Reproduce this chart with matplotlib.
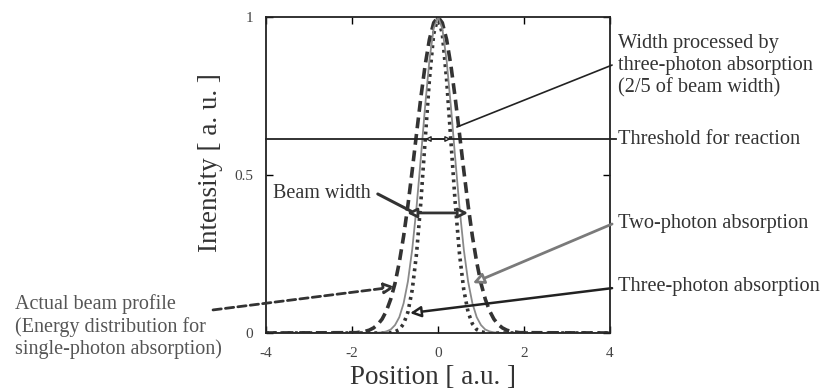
import matplotlib
matplotlib.use("Agg")
import matplotlib.pyplot as plt

plt.rcParams['font.family'] = ['Liberation Serif', 'DejaVu Serif']
plt.rcParams['axes.unicode_minus'] = False

# position [a.u.]
position = [-4.0, -2.0, -1.9, -1.8, -1.7, -1.6, -1.5, -1.4, -1.3, -1.2, -1.1,
            -1.0, -0.9, -0.8, -0.7, -0.6, -0.5, -0.4, -0.3, -0.2, -0.1, 0.0,
            0.1, 0.2, 0.3, 0.4, 0.5, 0.6, 0.7, 0.8, 0.9, 1.0,
            1.1, 1.2, 1.3, 1.4, 1.5, 1.6, 1.7, 1.8, 1.9, 2.0, 4.0]

# actual beam profile (single-photon)
beam = [0.0, 0.001, 0.001, 0.003, 0.005, 0.009, 0.016, 0.027, 0.044, 0.070, 0.107,
        0.157, 0.224, 0.306, 0.404, 0.514, 0.630, 0.744, 0.847, 0.929, 0.982, 1.000,
        0.982, 0.929, 0.847, 0.744, 0.630, 0.514, 0.404, 0.306, 0.224, 0.157,
        0.107, 0.070, 0.044, 0.027, 0.016, 0.009, 0.005, 0.003, 0.001, 0.001, 0.0]

# two-photon absorption
two_photon = [0.0, 0.0, 0.0, 0.0, 0.0, 0.0, 0.0, 0.001, 0.002, 0.005, 0.011,
              0.025, 0.050, 0.094, 0.163, 0.264, 0.397, 0.553, 0.717, 0.863, 0.964, 1.000,
              0.964, 0.863, 0.717, 0.553, 0.397, 0.264, 0.163, 0.094, 0.050, 0.025,
              0.011, 0.005, 0.002, 0.001, 0.0, 0.0, 0.0, 0.0, 0.0, 0.0, 0.0]

# three-photon absorption
three_photon = [0.0, 0.0, 0.0, 0.0, 0.0, 0.0, 0.0, 0.0, 0.0, 0.0, 0.001,
                0.004, 0.011, 0.029, 0.066, 0.136, 0.250, 0.412, 0.608, 0.802, 0.947, 1.000,
                0.947, 0.802, 0.608, 0.412, 0.250, 0.136, 0.066, 0.029, 0.011, 0.004,
                0.001, 0.0, 0.0, 0.0, 0.0, 0.0, 0.0, 0.0, 0.0, 0.0, 0.0]

threshold = 0.614
beam_width = [-0.72, 0.70]
processed_width = [-0.3, 0.3]

x_ticks = [-4, -2, 0, 2, 4]
y_ticks = [0, 0.5, 1]
y_tick_labels = ['0', '0.5', '1']

fig = plt.figure(figsize=(8.22, 3.92), dpi=100)
ax = fig.add_axes([0.3236, 0.1505, 0.4185, 0.806])

ax.plot(position, beam, color='#333333', lw=2.6, ls=(0, (3.0, 1.6)))
ax.plot(position, three_photon, color='#333333', lw=2.6, ls=(0, (0.8, 1.2)))
ax.plot(position, two_photon, color='#8a8a8a', lw=1.3)

# threshold
ax.plot([-4, 4.15], [threshold, threshold], color='#222222', lw=1.3, clip_on=False)

ax.set_xlim(-4, 4)
ax.set_ylim(0, 1)
ax.set_xticks(x_ticks)
ax.set_xticklabels([str(t) for t in x_ticks])
ax.set_yticks(y_ticks)
ax.set_yticklabels(y_tick_labels)
ax.tick_params(direction='in', top=True, right=True, length=5, width=1,
               labelsize=11, labelcolor='#444444')
ax.tick_params(axis='x', pad=10)
ax.tick_params(axis='y', pad=9)
for s in ax.spines.values():
    s.set_linewidth(1.3)
    s.set_color('#222222')

ax.set_xlabel('Position [ a.u. ]', fontsize=19.5, color='#333333', va='center', ha='center')
ax.xaxis.set_label_coords(0.486, -0.142)
ax.set_ylabel('Intensity [ a. u. ]', fontsize=19.5, color='#333333', va='center', ha='center')
ax.yaxis.set_label_coords(-0.16, 0.54)

tcol = '#333333'
# right hand side labels
ax.text(1.023, 0.846, 'Width processed by\nthree-photon absorption\n(2/5 of beam width)',
        transform=ax.transAxes, fontsize=14.7, color=tcol, va='center', ha='left',
        linespacing=1.2)
ax.text(1.023, 0.611, 'Threshold for reaction', transform=ax.transAxes,
        fontsize=14.7, color=tcol, va='center', ha='left')
ax.text(1.023, 0.348, 'Two-photon absorption', transform=ax.transAxes,
        fontsize=14.7, color=tcol, va='center', ha='left')
ax.text(1.023, 0.146, 'Three-photon absorption', transform=ax.transAxes,
        fontsize=14.7, color=tcol, va='center', ha='left')
ax.text(-0.73, 0.02, 'Actual beam profile\n(Energy distribution for\nsingle-photon absorption)',
        transform=ax.transAxes, fontsize=14.5, color='#555555', va='center', ha='left',
        linespacing=1.18)
ax.text(0.02, 0.443, 'Beam width', transform=ax.transAxes, fontsize=14.5,
        color=tcol, va='center', ha='left')

# width processed pointer and marker
ax.annotate('', xy=(0.44, 0.652), xytext=(1.006, 0.848), textcoords='axes fraction',
            arrowprops=dict(arrowstyle='-', color='#222222', lw=1.2,
                            shrinkA=0, shrinkB=0), annotation_clip=False)
ax.annotate('', xy=(processed_width[0], threshold), xytext=(processed_width[1], threshold),
            arrowprops=dict(arrowstyle='<|-|>', fc='white', ec='#222222', lw=1.0,
                            mutation_scale=8, shrinkA=0, shrinkB=0))

# beam width double arrow and pointer
ax.annotate('', xy=(beam_width[0], 0.38), xytext=(beam_width[1], 0.38),
            arrowprops=dict(arrowstyle='<|-|>', fc='white', ec='#333333', lw=2.0,
                            mutation_scale=14, shrinkA=0, shrinkB=0))
ax.annotate('', xy=(-0.62, 0.385), xytext=(0.325, 0.44), textcoords='axes fraction',
            arrowprops=dict(arrowstyle='-', color='#333333', lw=2.2,
                            shrinkA=0, shrinkB=0))

# pointers to curves
ax.annotate('', xy=(0.81, 0.158), xytext=(1.006, 0.345), textcoords='axes fraction',
            arrowprops=dict(arrowstyle='-|>', fc='white', ec='#7a7a7a', lw=2.0,
                            mutation_scale=16, shrinkA=0, shrinkB=0),
            annotation_clip=False)
ax.annotate('', xy=(-0.65, 0.063), xytext=(1.006, 0.142), textcoords='axes fraction',
            arrowprops=dict(arrowstyle='-|>', fc='white', ec='#222222', lw=1.8,
                            mutation_scale=16, shrinkA=0, shrinkB=0),
            annotation_clip=False)
ax.annotate('', xy=(-1.0, 0.146), xytext=(-0.154, 0.073), textcoords='axes fraction',
            arrowprops=dict(arrowstyle='-|>', fc='white', ec='#333333', lw=2.0,
                            ls=(0, (3, 1.5)), mutation_scale=16, shrinkA=0, shrinkB=0),
            annotation_clip=False)

fig.savefig('out.png', dpi=100)
